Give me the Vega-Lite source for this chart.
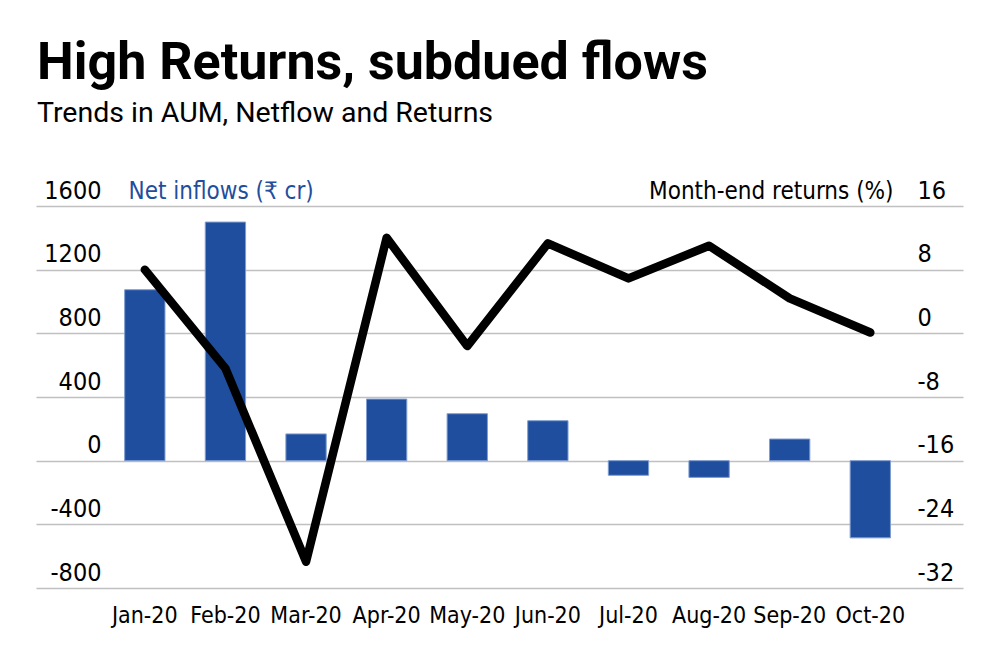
{
  "$schema": "https://vega.github.io/schema/vega-lite/v6.json",
  "autosize": {"type": "none"},
  "width": 927,
  "height": 382,
  "padding": {"left": 36, "top": 206, "right": 37, "bottom": 75},
  "background": "white",
  "title": {
    "text": "High Returns, subdued flows",
    "subtitle": "Trends in AUM, Netflow and Returns",
    "anchor": "start",
    "frame": "group",
    "dx": 1,
    "offset": 50,
    "font": "Roboto",
    "fontSize": 52,
    "fontWeight": "bold",
    "color": "#000000",
    "subtitleFont": "Roboto",
    "subtitleFontSize": 28.5,
    "subtitleColor": "#000000",
    "subtitlePadding": 9
  },
  "data": {
    "values": [
      {"month": "Jan-20", "inflow": 1074, "ret": 8.0},
      {"month": "Feb-20", "inflow": 1499, "ret": -4.4},
      {"month": "Mar-20", "inflow": 168, "ret": -28.7},
      {"month": "Apr-20", "inflow": 387, "ret": 12.0},
      {"month": "May-20", "inflow": 295, "ret": -1.6},
      {"month": "Jun-20", "inflow": 251, "ret": 11.3},
      {"month": "Jul-20", "inflow": -92, "ret": 6.9},
      {"month": "Aug-20", "inflow": -105, "ret": 11.0},
      {"month": "Sep-20", "inflow": 136, "ret": 4.4},
      {"month": "Oct-20", "inflow": -485, "ret": 0.1}
    ]
  },
  "encoding": {
    "x": {
      "field": "month",
      "type": "nominal",
      "sort": null,
      "scale": {"paddingInner": 0.5, "paddingOuter": 1.17, "align": 0.55},
      "axis": {
        "title": null,
        "labelAngle": 0,
        "domain": false,
        "ticks": false,
        "tickSize": 0,
        "grid": false,
        "labelPadding": 16,
        "labelFont": "DejaVu Sans Condensed",
        "labelFontSize": 23,
        "labelColor": "#000000"
      }
    }
  },
  "layer": [
    {
      "mark": {"type": "bar", "color": "#1f4e9e", "stroke": "#7f9dd0", "strokeWidth": 1},
      "encoding": {
        "y": {
          "field": "inflow",
          "type": "quantitative",
          "scale": {"domain": [-800, 1600], "nice": false, "zero": false},
          "axis": {
            "orient": "left",
            "values": [-800, -400, 0, 400, 800, 1200, 1600],
            "labelExpr": "'' + datum.value",
            "domain": false,
            "ticks": false,
            "tickSize": 0,
            "grid": true,
            "gridColor": "#c0c0c0",
            "gridWidth": 1.5,
            "labelAlign": "right",
            "labelBaseline": "alphabetic",
            "labelOffset": -8,
            "labelPadding": -65,
            "labelFont": "DejaVu Sans Condensed",
            "labelFontSize": 25,
            "labelColor": "#000000",
            "title": "Net inflows (₹ cr)",
            "titleAngle": 0,
            "titleAlign": "left",
            "titleBaseline": "alphabetic",
            "titleX": 92,
            "titleY": -8,
            "titleFont": "DejaVu Sans Condensed",
            "titleFontSize": 24,
            "titleFontWeight": "normal",
            "titleColor": "#1f4e9e"
          }
        }
      }
    },
    {
      "mark": {"type": "line", "color": "#000000", "strokeWidth": 8.5, "strokeJoin": "round", "strokeCap": "round"},
      "encoding": {
        "y": {
          "field": "ret",
          "type": "quantitative",
          "scale": {"domain": [-32, 16], "nice": false, "zero": false},
          "axis": {
            "orient": "right",
            "values": [-32, -24, -16, -8, 0, 8, 16],
            "labelExpr": "'' + datum.value",
            "domain": false,
            "ticks": false,
            "tickSize": 0,
            "grid": false,
            "labelAlign": "left",
            "labelBaseline": "alphabetic",
            "labelOffset": -8,
            "labelPadding": -46,
            "labelFont": "DejaVu Sans Condensed",
            "labelFontSize": 25,
            "labelColor": "#000000",
            "title": "Month-end returns (%)",
            "titleAngle": 0,
            "titleAlign": "right",
            "titleBaseline": "alphabetic",
            "titleX": -70,
            "titleY": -8,
            "titleFont": "DejaVu Sans Condensed",
            "titleFontSize": 24,
            "titleFontWeight": "normal",
            "titleColor": "#000000"
          }
        }
      }
    }
  ],
  "resolve": {"scale": {"y": "independent"}},
  "config": {"view": {"stroke": null}}
}
